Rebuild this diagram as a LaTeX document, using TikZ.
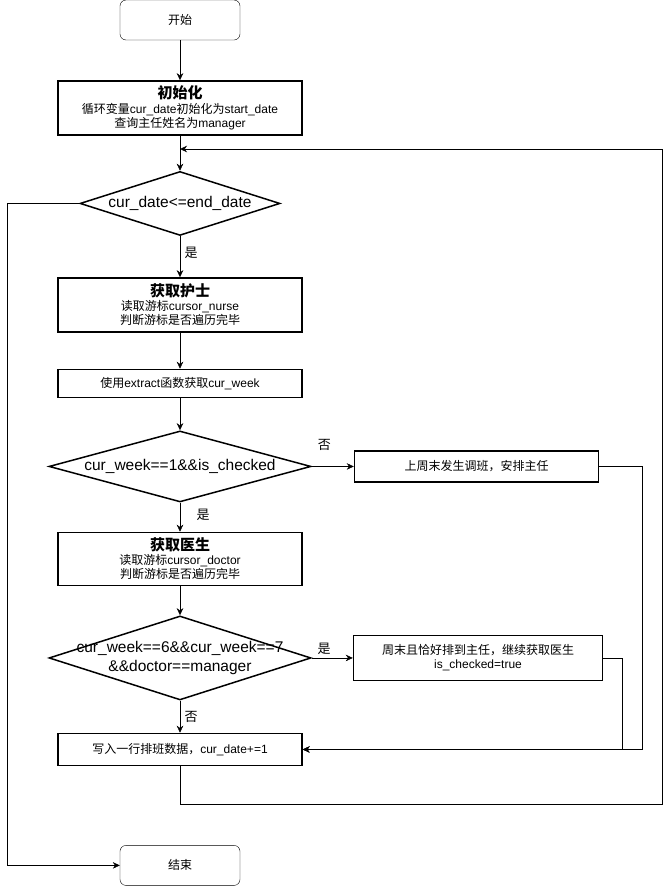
\documentclass[tikz,border=0pt]{standalone}
\usepackage{fontspec}
\setmainfont{Liberation Sans}
\newfontfamily\zhfont{Noto Sans CJK SC}
\newcommand{\zhtxt}[1]{{\zhfont #1}}
\newcommand{\boxtitle}[1]{{\fontsize{15}{17}\selectfont\zhfont\bfseries #1}}
\usetikzlibrary{arrows.meta,positioning,shapes.geometric}

\begin{document}
\begin{tikzpicture}[
    >={Stealth[length=7pt,width=6.5pt]},
    x=1pt, y=-1pt,
    every node/.style={font=\fontsize{12}{14}\selectfont, align=center},
    term/.style={draw, rounded corners=6pt, minimum width=120pt, minimum height=40pt, inner sep=0pt},
    proc/.style={draw, line width=1.5pt, minimum width=244pt, inner sep=0pt},
    cond/.style={draw, diamond, line width=1.5pt, inner sep=0pt, minimum width=262pt, font=\fontsize{15.5}{19}\selectfont},
    lbl/.style={font=\fontsize{13}{15}\selectfont}
  ]
    \useasboundingbox (0,0) rectangle (672,887);

    % 主流程
    \node[term] (start) at (180,20) {\zhtxt{开始}};
    \node[proc, minimum height=54pt, below=40pt of start] (init)
      {\boxtitle{初始化}\\[1pt]\zhtxt{循环变量}cur\_date\zhtxt{初始化为}start\_date\\\zhtxt{查询主任姓名为}manager};
    \node[cond, minimum width=200pt, minimum height=64pt, below=35pt of init] (chkdate)
      {\makebox[0pt]{cur\_date<=end\_date}};
    \node[proc, minimum height=54pt, below=41pt of chkdate] (nurse)
      {\boxtitle{获取护士}\\\zhtxt{读取游标}cursor\_nurse\\\zhtxt{判断游标是否遍历完毕}};
    \node[proc, minimum height=28pt, below=36pt of nurse] (week)
      {\zhtxt{使用}extract\zhtxt{函数获取}cur\_week};
    \node[cond, minimum height=71pt, below=32pt of week] (chkweek)
      {\makebox[0pt]{cur\_week==1\&\&is\_checked}};
    \node[proc, minimum height=53pt, below=29pt of chkweek] (doctor)
      {\boxtitle{获取医生}\\\zhtxt{读取游标}cursor\_doctor\\\zhtxt{判断游标是否遍历完毕}};
    \node[cond, minimum height=84pt, below=29pt of doctor] (chkmgr)
      {\makebox[0pt]{\begin{tabular}{@{}c@{}}cur\_week==6\&\&cur\_week==7\\\&\&doctor==manager\end{tabular}}};
    \node[proc, minimum height=32pt, below=32pt of chkmgr] (write)
      {\zhtxt{写入一行排班数据，}cur\_date+=1};
    \node[term, below=79pt of write] (stop) {\zhtxt{结束}};

    % 右侧分支
    \node[proc, minimum height=31pt, right=42pt of chkweek] (swap)
      {\zhtxt{上周末发生调班，安排主任}};
    \node[proc, minimum width=249pt, minimum height=45pt, right=41pt of chkmgr] (wknd)
      {\zhtxt{周末且恰好排到主任，继续获取医生}\\is\_checked=true};

    % 连线
    \coordinate (merge) at (180,149);
    \draw[->] (start) -- (init);
    \draw[->] (init) -- (chkdate);
    \draw[->] (chkdate) -- node[lbl, right, pos=0.4, xshift=1pt] {\zhtxt{是}} (nurse);
    \draw[->] (nurse) -- (week);
    \draw[->] (week) -- (chkweek);
    \draw[->] (chkweek) -- node[lbl, right, pos=0.43, xshift=13pt] {\zhtxt{是}} (doctor);
    \draw[->] (chkweek) -- node[lbl, above, pos=0.3, yshift=12pt] {\zhtxt{否}} (swap);
    \draw[->] (doctor) -- (chkmgr);
    \draw[->] (chkmgr) -- node[lbl, right, pos=0.5, xshift=1pt] {\zhtxt{否}} (write);
    \draw[->] (chkmgr) -- node[lbl, above, pos=0.3] {\zhtxt{是}} (wknd);
    \draw[->] (swap.east) -- ++(43,0) |- (write.east);
    \draw[->] (wknd.east) -- ++(19,0) |- (write.east);
    \draw[->] (write.south) -- ++(0,38) -| (662,149) -- (merge);
    \draw[->] (chkdate.west) -- ++(-72,0) |- (stop.west);

\end{tikzpicture}
\end{document}
